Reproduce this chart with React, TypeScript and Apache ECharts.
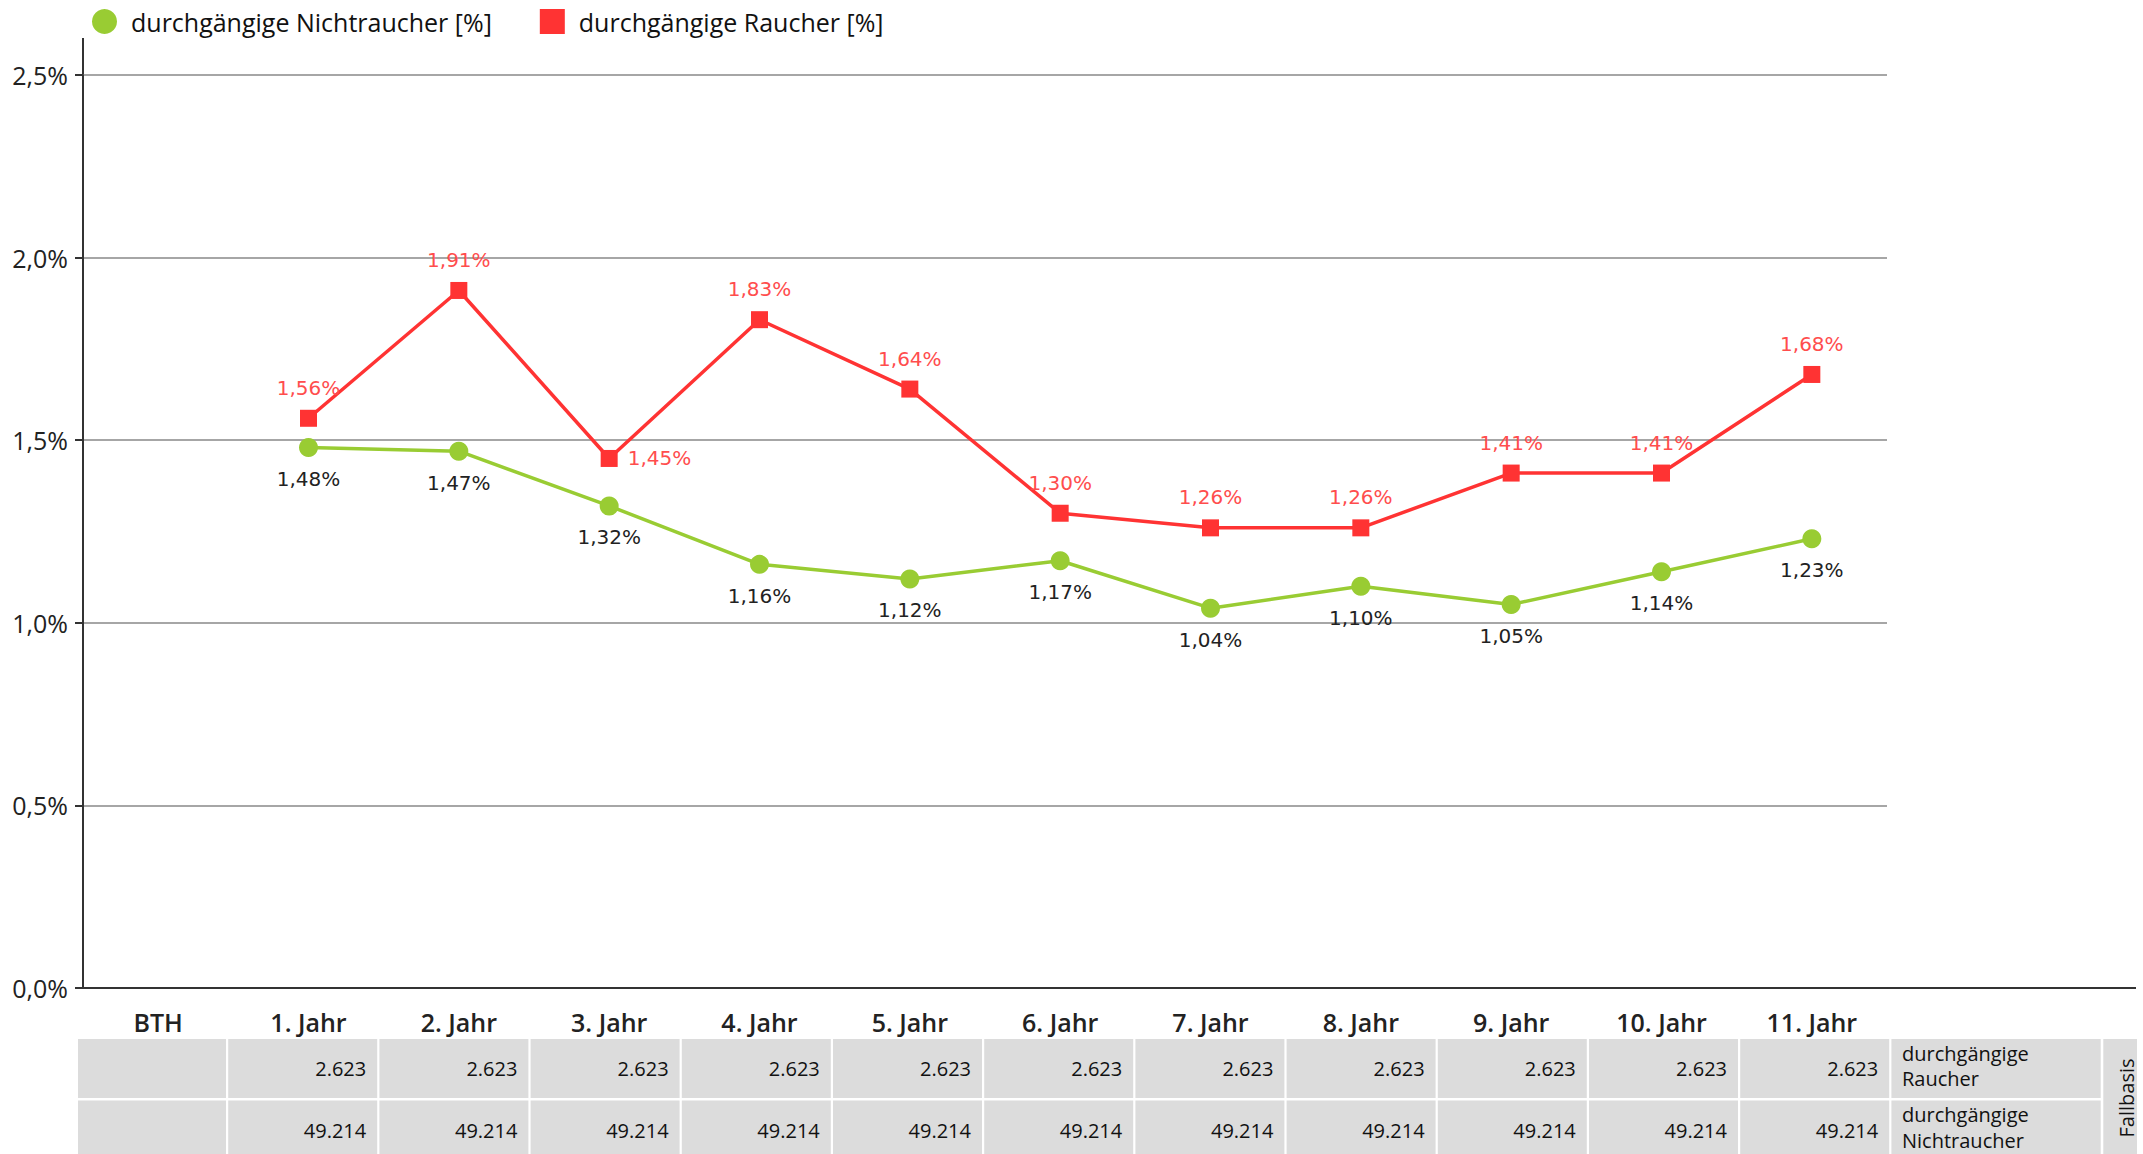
import React, { useEffect, useRef } from "react";
import * as echarts from "echarts";

const categories = ["BTH", "1. Jahr", "2. Jahr", "3. Jahr", "4. Jahr", "5. Jahr", "6. Jahr", "7. Jahr", "8. Jahr", "9. Jahr", "10. Jahr", "11. Jahr"];
const nichtraucher = [null, 1.48, 1.47, 1.32, 1.16, 1.12, 1.17, 1.04, 1.1, 1.05, 1.14, 1.23];
const raucher = [null, 1.56, 1.91, 1.45, 1.83, 1.64, 1.3, 1.26, 1.26, 1.41, 1.41, 1.68];
const fallbasisRaucher = [null, 2623, 2623, 2623, 2623, 2623, 2623, 2623, 2623, 2623, 2623, 2623];
const fallbasisNichtraucher = [null, 49214, 49214, 49214, 49214, 49214, 49214, 49214, 49214, 49214, 49214, 49214];
const rowLabels = [["durchgängige", "Raucher"], ["durchgängige", "Nichtraucher"]];
const seriesNames = ["durchgängige Nichtraucher [%]", "durchgängige Raucher [%]"];
const yMin = 0;
const yMax = 2.5;
const yInterval = 0.5;

const GREEN = "#99cc33";
const RED = "#ff3333";

function fmtThousands(n: number | null): string {
  if (n === null) return "";
  const s = String(Math.round(n));
  return s.replace(/\B(?=(\d{3})+(?!\d))/g, ".");
}

function buildTable(): any[] {
  const els: any[] = [];
  const rows = [
    { y: 1039, h: 59, vals: fallbasisRaucher, label: rowLabels[0] },
    { y: 1100.5, h: 60, vals: fallbasisNichtraucher, label: rowLabels[1] },
  ];
  const firstLeft = 78;
  const firstRight = 226;
  const colW = 151.2;
  const gap = 2.2;
  rows.forEach((r) => {
    categories.forEach((_, i) => {
      const x0 = i === 0 ? firstLeft : firstRight + gap + colW * (i - 1);
      const x1 = firstRight + colW * i;
      els.push({
        type: "rect",
        shape: { x: x0, y: r.y, width: x1 - x0, height: r.h },
        style: { fill: "#dcdcdc" },
        silent: true,
      });
      const v = r.vals[i];
      if (v !== null) {
        els.push({
          type: "text",
          x: x1 - 11,
          y: r.y + 29.5,
          style: {
            text: fmtThousands(v),
            fontFamily: "Open Sans",
            fontSize: 20,
            fill: "#111",
            textAlign: "right",
            textVerticalAlign: "middle",
          },
          silent: true,
        });
      }
    });
    const lx0 = firstRight + gap + colW * 11;
    els.push({
      type: "rect",
      shape: { x: lx0, y: r.y, width: 2100.7 - lx0, height: r.h },
      style: { fill: "#dcdcdc" },
      silent: true,
    });
    r.label.forEach((t, j) => {
      els.push({
        type: "text",
        x: 1902,
        y: r.y + 14 + j * 25.5,
        style: {
          text: t,
          fontFamily: "Open Sans",
          fontSize: 20,
          fill: "#111",
          textAlign: "left",
          textVerticalAlign: "middle",
        },
        silent: true,
      });
    });
  });
  els.push({
    type: "rect",
    shape: { x: 2103.3, y: 1039, width: 2137 - 2103.3, height: 121 },
    style: { fill: "#dcdcdc" },
    silent: true,
  });
  els.push({
    type: "text",
    x: 2126,
    y: 1098,
    rotation: Math.PI / 2,
    style: {
      text: "Fallbasis",
      fontFamily: "Open Sans",
      fontSize: 20,
      fill: "#111",
      textAlign: "center",
      textVerticalAlign: "middle",
    },
    silent: true,
  });
  // axis extensions
  els.push({
    type: "line",
    shape: { x1: 83, y1: 38, x2: 83, y2: 76 },
    style: { stroke: "#333", lineWidth: 2 },
    silent: true,
  });
  els.push({
    type: "line",
    shape: { x1: 1886, y1: 988, x2: 2136, y2: 988 },
    style: { stroke: "#333", lineWidth: 2 },
    silent: true,
  });
  return els;
}

export default function App() {
  const ref = useRef<HTMLDivElement>(null);
  useEffect(() => {
    document.body.style.margin = "0";
    if (!ref.current) return;
    const chart = echarts.init(ref.current, null, { renderer: "svg" });
    const pctLabel = (p: any) => {
      const v = typeof p.value === "number" ? p.value : Number(p.value);
      return v.toFixed(2).replace(".", ",") + "%";
    };
    const option: any = {
      animation: false,
      backgroundColor: "#ffffff",
      legend: {
        left: 87,
        top: 4,
        itemWidth: 25,
        itemHeight: 25,
        itemGap: 48,
        data: [
          { name: seriesNames[0], icon: "circle" },
          { name: seriesNames[1], icon: "rect" },
        ],
        textStyle: {
          fontFamily: "Open Sans",
          fontSize: 25,
          color: "#111",
          padding: [0, 0, 0, 9],
        },
      },
      grid: { left: 83, right: 256, top: 75, bottom: 166, containLabel: false },
      xAxis: {
        type: "category",
        data: categories,
        boundaryGap: true,
        axisLine: { lineStyle: { color: "#333", width: 2 } },
        axisTick: { alignWithLabel: true, length: 9, lineStyle: { color: "#333", width: 2 } },
        axisLabel: {
          margin: 21,
          fontFamily: "Open Sans",
          fontSize: 25,
          fontWeight: 600,
          color: "#222",
          interval: 0,
        },
        splitLine: { show: false },
      },
      yAxis: {
        type: "value",
        min: yMin,
        max: yMax,
        interval: yInterval,
        axisLine: { show: true, lineStyle: { color: "#333", width: 2 } },
        axisTick: { show: true, length: 8, lineStyle: { color: "#333", width: 2 } },
        axisLabel: {
          margin: 15,
          fontFamily: "Open Sans",
          fontSize: 25,
          color: "#222",
          formatter: (v: number) => v.toFixed(1).replace(".", ",") + "%",
        },
        splitLine: { lineStyle: { color: "#a6a6a6", width: 2 } },
      },
      series: [
        {
          name: seriesNames[0],
          type: "line",
          data: nichtraucher,
          symbol: "circle",
          symbolSize: 19,
          lineStyle: { color: GREEN, width: 3.5 },
          itemStyle: { color: GREEN },
          label: {
            show: true,
            position: "bottom",
            distance: 12,
            fontFamily: "DejaVu Sans",
            fontSize: 20,
            color: "#222",
            formatter: pctLabel,
          },
          z: 3,
        },
        {
          name: seriesNames[1],
          type: "line",
          data: raucher.map((v, i) =>
            i === 3 ? { value: v, label: { position: "right", distance: 10 } } : v
          ),
          symbol: "rect",
          symbolSize: 17,
          lineStyle: { color: RED, width: 3.5 },
          itemStyle: { color: RED },
          label: {
            show: true,
            position: "top",
            distance: 12,
            fontFamily: "DejaVu Sans",
            fontSize: 20,
            color: "#ff4d4d",
            formatter: pctLabel,
          },
          z: 4,
        },
      ],
      graphic: buildTable(),
    };
    chart.setOption(option);
    return () => chart.dispose();
  }, []);
  return <div ref={ref} style={{ width: 2143, height: 1154 }} />;
}
